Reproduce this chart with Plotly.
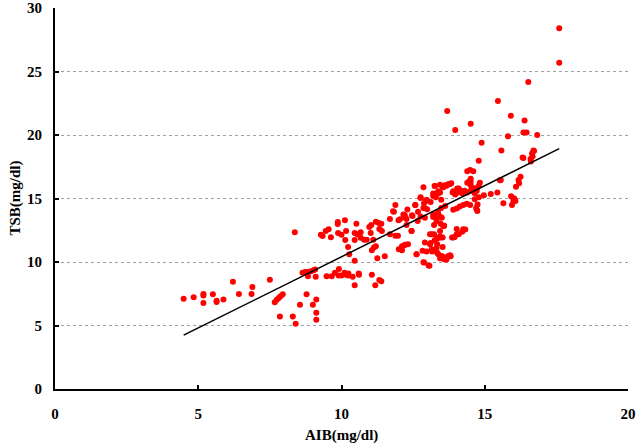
import plotly.graph_objects as go

# AIB (x) and TSB (y) values
aib = [4.49, 4.84, 5.18, 5.18, 5.18, 5.51, 5.64, 5.64, 5.88, 6.21, 6.42, 6.86, 6.89,
       7.50, 7.67, 7.74, 7.81, 7.87, 7.95, 7.85, 8.37, 8.30, 8.40, 8.55, 8.64, 8.73,
       8.78, 8.83, 8.84, 8.94, 9.02, 9.08, 9.00, 9.12, 9.10, 9.12, 9.12, 9.28, 9.34,
       9.45, 9.55, 9.63, 9.87, 9.87, 10.12, 9.88, 10.00, 10.16, 10.13, 10.23, 9.48,
       9.66, 9.77, 9.91, 9.90, 10.00, 10.11, 10.16, 10.24, 10.24,
       10.27, 10.46, 10.52, 10.46, 10.46, 10.55, 10.67, 10.67, 10.79, 10.88, 10.97,
       11.04, 11.02, 11.11, 11.20, 11.30, 11.39, 11.32, 11.41, 11.06, 11.13, 11.20,
       11.25, 11.51, 10.20, 10.39, 10.46, 10.60, 10.61, 11.06, 11.18, 11.32, 11.39,
       11.69, 11.69, 11.83, 11.88, 11.88, 11.97, 11.99, 12.11, 12.11, 12.18, 12.21,
       12.27, 12.32, 12.27, 12.44, 12.46, 12.58, 12.62, 12.67, 12.76, 12.88, 12.90,
       12.99, 13.11, 13.20, 13.23, 13.34, 13.46, 13.09, 13.11, 13.25, 13.34, 13.46,
       13.58, 12.83, 12.97, 13.16, 13.34, 13.48, 13.60, 13.66, 12.86, 13.04, 13.23,
       13.34,
       14.89, 15.58, 16.70, 16.65, 16.60, 16.32, 14.79, 14.39, 14.49, 14.60, 14.51,
       14.51, 14.51, 14.64, 14.39, 14.83, 14.79, 14.72, 13.83, 13.74, 13.62, 13.53,
       13.44, 13.88, 13.97, 14.09, 14.22, 14.21, 14.30, 14.39, 14.51, 14.65, 14.72,
       14.65, 14.79, 14.97, 15.21, 15.44, 15.56, 15.65, 15.95, 16.00, 16.03, 16.09,
       16.20, 16.18, 16.25, 13.44, 13.48, 13.48, 13.62, 13.44, 13.90, 14.02, 14.13,
       14.25, 14.37, 14.49, 14.70, 14.74, 13.58, 13.44, 13.53, 13.53, 13.86, 13.95,
       14.02, 14.09, 14.21, 14.32, 13.44, 13.60, 13.72, 13.81, 13.44,
       13.69, 12.86, 13.25, 13.55, 13.67, 12.76, 12.94, 13.20, 13.29, 13.37, 11.80,
       17.60, 16.52, 15.46, 15.91, 16.39, 14.51, 13.97, 16.35, 16.46, 16.83, 15.81,
       16.72, 17.60,
       15.92, 16.00, 16.07, 16.61, 16.67, 16.35, 15.53, 14.75, 14.72,
       13.26, 13.55, 13.67, 13.79, 13.90, 14.04, 14.10, 14.46, 12.76, 12.97, 13.20,
       13.30, 13.38, 12.57, 12.30, 12.16, 12.22, 12.48, 12.91, 13.20, 13.37, 13.50,
       13.32, 12.86, 12.66, 12.04, 12.45, 12.91, 13.09, 13.15, 13.20, 13.55, 13.37,
       13.90, 14.02, 14.25, 13.50, 13.61, 13.73, 13.79, 13.07, 12.88, 12.62, 12.22,
       12.00, 13.32, 13.38, 13.15]
tsb = [7.10, 7.23, 7.49, 7.36, 6.78, 7.46, 6.94, 6.85, 7.04, 8.45, 7.49, 7.49, 8.03,
       8.61, 6.83, 7.02, 7.17, 7.30, 7.46, 5.71, 12.34, 5.71, 5.14, 6.63, 9.15, 9.21,
       7.46, 8.87, 9.23, 9.28, 9.36, 9.41, 6.63, 7.04, 8.84, 6.00, 5.45, 12.15, 12.05,
       12.44, 12.57, 11.95, 13.15, 12.99, 13.28, 12.28, 12.15, 12.44, 11.74, 11.19, 8.87,
       8.87, 9.15, 9.44, 8.94, 8.94, 9.15, 9.00, 9.10, 8.94,
       10.62, 10.09, 13.01, 12.28, 11.74, 12.18, 12.34, 11.90, 11.76, 11.76, 12.75,
       12.91, 12.28, 11.76, 13.17, 13.07, 13.01, 12.60, 12.44, 10.93, 11.14, 11.24,
       10.30, 10.46, 9.00, 8.84, 8.16, 9.10, 9.00, 9.00, 8.16, 8.58, 8.48,
       13.38, 12.18, 13.95, 14.48, 12.07, 12.07, 13.28, 11.24, 10.93, 11.29, 13.69,
       12.91, 11.40, 13.38, 12.44, 13.69, 14.48, 10.62, 13.95, 13.59, 14.63, 14.26,
       14.16, 14.73, 13.54, 12.91, 13.59, 13.01, 12.18, 11.50, 11.71, 11.40, 11.92,
       12.86, 10.88, 10.82, 10.82, 10.72, 10.30, 10.20, 10.20, 9.99, 9.73, 12.18,
       11.86,
       19.38, 18.78, 18.78, 18.55, 18.12, 18.23, 17.97, 17.14, 17.24, 17.14, 16.56,
       16.30, 16.04, 15.80, 16.25, 16.25, 16.00, 15.78, 16.20, 16.14, 16.04, 15.93,
       16.09, 15.47, 15.31, 15.78, 15.60, 15.41, 15.62, 15.47, 15.62, 15.41, 15.62,
       14.95, 15.10, 15.26, 15.36, 15.47, 16.46, 14.63, 14.48, 14.79, 15.00, 15.93,
       16.20, 16.46, 16.72, 15.47, 14.90, 14.26, 14.40, 13.59, 14.11, 14.21, 14.37,
       14.48, 14.58, 14.48, 14.26, 14.01, 12.86, 12.44, 11.92, 11.19, 11.92, 11.97,
       12.60, 12.18, 12.39, 12.55, 10.30, 10.30, 10.41, 10.46, 12.00,
       21.88, 15.88, 15.99, 15.90, 16.00, 15.10, 14.80, 15.40, 15.10, 15.40, 14.00,
       25.69, 24.18, 22.67, 21.52, 21.15, 20.89, 20.39, 20.19, 20.19, 20.00, 19.90,
       18.75, 28.40,
       15.18, 15.00, 14.80, 17.92, 18.30, 18.18, 16.43, 14.52, 14.13,
       15.99, 15.88, 16.04, 16.14, 15.57, 15.78, 15.50, 16.35, 15.04, 14.90, 15.20,
       15.40, 15.57, 14.48, 14.13, 13.75, 13.48, 13.62, 13.48, 13.75, 13.90, 13.48,
       13.22, 14.26, 13.22, 13.36, 12.44, 11.53, 11.40, 12.18, 10.87, 12.83, 11.90,
       11.92, 12.18, 12.57, 10.48, 10.35, 10.48, 10.54, 9.70, 9.96, 10.62, 11.35,
       11.00, 11.13, 10.62, 11.00]

# Regression line parameters
slope = 1.12
intercept = -0.79
line_x = [min(aib), max(aib)]
line_y = [slope * v + intercept for v in line_x]

x_ticks = [0, 5, 10, 15, 20]
y_ticks = [0, 5, 10, 15, 20, 25, 30]

font_family = "Liberation Serif, Times New Roman, serif"

fig = go.Figure()
fig.add_trace(go.Scatter(x=aib, y=tsb, mode="markers",
                         marker=dict(color="#FF0000", size=6, line=dict(width=0)),
                         showlegend=False, cliponaxis=False))
fig.add_trace(go.Scatter(x=line_x, y=line_y, mode="lines",
                         line=dict(color="black", width=1.5), showlegend=False))

fig.update_layout(
    width=640, height=445,
    margin=dict(l=55, r=12, t=8, b=56),
    paper_bgcolor="white", plot_bgcolor="white",
    font=dict(family=font_family, size=15, color="black"),
    xaxis=dict(range=[0, 20], tickvals=x_ticks,
               ticktext=[f"<b>{v}</b>" for v in x_ticks],
               showline=True, linecolor="black", linewidth=2,
               ticks="inside", ticklen=4, tickwidth=2, tickcolor="black",
               showgrid=False, zeroline=False, automargin=False,
               ticklabelstandoff=10, ticklabeloverflow="allow"),
    yaxis=dict(range=[0, 30], tickvals=y_ticks,
               ticktext=[f"<b>{v}</b>" for v in y_ticks],
               showline=True, linecolor="black", linewidth=2,
               ticks="inside", ticklen=4, tickwidth=2, tickcolor="black",
               showgrid=True, gridcolor="#A0A0A0", gridwidth=1, griddash="dot",
               zeroline=False, ticklabelstandoff=8, automargin=False,
               ticklabeloverflow="allow"),
    annotations=[
        dict(text="<b>AIB(mg/dl)</b>", xref="paper", yref="paper", x=0.5, y=0,
             xanchor="center", yanchor="middle", yshift=-46, showarrow=False,
             font=dict(size=15)),
        dict(text="<b>TSB(mg/dl)</b>", xref="paper", yref="paper", x=0, y=0.5,
             xanchor="center", yanchor="middle", xshift=-40, textangle=-90,
             showarrow=False, font=dict(size=15)),
    ],
)

fig.write_html("out.html", config={"displayModeBar": False},
               post_script="document.body.style.margin='0';document.body.style.padding='0';")
